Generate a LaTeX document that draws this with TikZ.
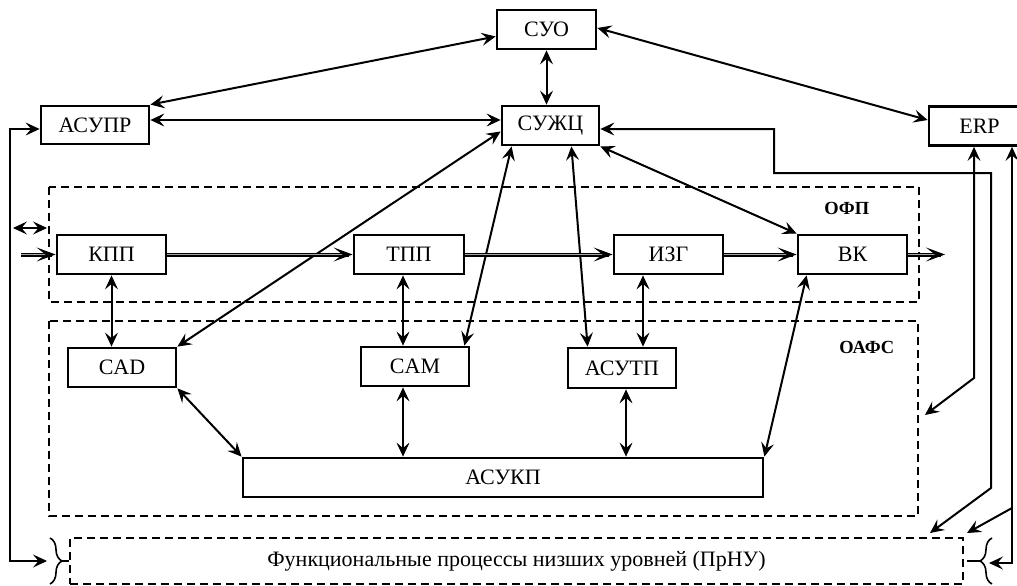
\documentclass[tikz,border=0pt]{standalone}
\usepackage{fontspec}
\setmainfont{Liberation Serif}
\usetikzlibrary{arrows.meta,calc,decorations.pathreplacing}
\newcommand\flowarr[2]{%
  \draw[flowline] (#1) -- ([xshift=-4pt]#2);
  \draw[flowtip] ([xshift=-6pt]#2) -- (#2);}
\begin{document}
\begin{tikzpicture}[x=1pt,y=-1pt,
  box/.style={draw, line width=2.8pt, rectangle, inner sep=0pt, font=\fontsize{22}{24}\selectfont},
  region/.style={draw, line width=1.6pt, dash pattern=on 8pt off 5pt},
  arrtip/.tip={Stealth[length=14pt,width=13pt,inset=5.5pt,line width=1pt]},
  conn/.style={line width=2pt, arrtip-arrtip},
  oneway/.style={line width=2pt, -arrtip},
  flowline/.style={line width=1.1pt, double=gray!70, double distance=1.8pt},
  flowtip/.style={line width=1.6pt, -{Stealth[length=19pt,width=14pt,inset=9pt,line width=1pt]}},
  lbl/.style={font=\bfseries\fontsize{18.5}{20}\selectfont},
  bracestyle/.style={line width=1.6pt, decorate, decoration={brace, amplitude=12pt}}
]
\useasboundingbox (0,0) rectangle (1017,586);

% regions
\draw[region] (49,187) rectangle (919,302);
\draw[region] (49,321) rectangle (918,516);
\node[lbl] (ofp) at (846.7,208.5) {ОФП};
\node[lbl] (oafs) at (866.7,347) {ОАФС};
\node[draw, line width=1.3pt, dash pattern=on 8pt off 5pt, minimum width=893pt, minimum height=46pt, inner sep=0pt, font=\fontsize{22}{24}\selectfont] (prnu) at (516.5,561) {Функциональные процессы низших уровней (ПрНУ)};

% boxes
\node[box, minimum width=99pt, minimum height=39pt] (suo) at (546.5,29.5) {СУО};
\node[box, minimum width=97pt, minimum height=39pt] (suzhc) at (550.5,125.5) {СУЖЦ};
\node[box, minimum width=108pt, minimum height=38pt] (asupr) at (95,125) {АСУПР};
\node[box, minimum width=101pt, minimum height=39pt] (erp) at (979.5,126) {ERP};
\node[box, minimum width=109pt, minimum height=39pt] (kpp) at (111.5,254.5) {КПП};
\node[box, minimum width=110pt, minimum height=39pt] (tpp) at (409,254.5) {ТПП};
\node[box, minimum width=109pt, minimum height=39pt] (izg) at (668.5,254.5) {ИЗГ};
\node[box, minimum width=109pt, minimum height=39pt] (vk) at (852.5,254.5) {ВК};
\node[box, minimum width=108pt, minimum height=39pt] (cad) at (122,367.5) {CAD};
\node[box, minimum width=108pt, minimum height=39pt] (cam) at (415,366.5) {CAM};
\node[box, minimum width=108pt, minimum height=40pt] (asutp) at (622,368) {АСУТП};
\node[box, minimum width=520pt, minimum height=39pt] (asukp) at (503,477.5) {АСУКП};

% top connections
\draw[conn] (asupr.north east) -- ([yshift=-7pt]suo.west);
\draw[conn] ([yshift=1.5pt]suo.east) -- ([yshift=6pt]erp.west);
\draw[conn] (suo.south) -- (suo.south |- suzhc.north);
\draw[conn] ([yshift=5pt]asupr.east) -- ([yshift=5pt]asupr.east -| suzhc.west);

% from СУЖЦ downward
\draw[conn] ([yshift=-6pt]suzhc.west) -- (cad.north east);
\draw[conn] ([xshift=11pt]suzhc.south west) -- ([xshift=-6pt]cam.north east);
\draw[conn] ([xshift=-29pt]suzhc.south east) -- ([xshift=21pt]asutp.north west);
\draw[conn] (suzhc.south east) -- (vk.north west);
\draw[conn] ([xshift=10pt]vk.south west) -- (asukp.north east);

% verticals
\draw[conn] (kpp.south) -- (kpp.south |- cad.north);
\draw[conn] ([xshift=-6pt]tpp.south) -- ([xshift=-6pt]tpp.south |- cam.north);
\draw[conn] ([xshift=-25.5pt]izg.south) -- ([xshift=-25.5pt]izg.south |- asutp.north);
\draw[conn] (cad.south east) -- (asukp.north west);
\draw[conn] ([xshift=-12pt]cam.south) -- ([xshift=-12pt]cam.south |- asukp.north);
\draw[conn] ([xshift=4pt]asutp.south) -- ([xshift=4pt]asutp.south |- asukp.north);

% flow
\coordinate (in) at (21,254.5);
\coordinate (out) at (945,254.5);
\flowarr{in}{kpp.west}
\flowarr{kpp.east}{tpp.west}
\flowarr{tpp.east}{izg.west}
\flowarr{izg.east}{vk.west}
\flowarr{vk.east}{out}

% small two-way arrow at left
\coordinate (s1) at (13,228);
\coordinate (s2) at (47,228);
\draw[conn] (s1) -- (s2);

% braces
\coordinate (lbtop) at (50,538);
\coordinate (lbbot) at (50,584);
\coordinate (lbtip) at (62,561);
\coordinate (lbin) at (47,561);
\draw[bracestyle] (lbtop) -- (lbbot);
\draw[line width=1.6pt] (lbtip) -- (lbtip -| prnu.west);
\coordinate (rbtop) at (992,538);
\coordinate (rbbot) at (992,584);
\coordinate (rbtip) at (980,561);
\coordinate (rbin) at (989,563);
\draw[bracestyle] (rbbot) -- (rbtop);
\draw[line width=1.6pt] (rbtip) -- ([xshift=3pt]rbtip -| prnu.east);

% left loop АСУПР <-> ПрНУ
\coordinate (l1) at (10,129);
\draw[conn] (lbin) -| (l1) -- (l1 -| asupr.west);

% right side
\coordinate (b1) at (774,129);
\coordinate (b2) at (774,173);
\coordinate (b3) at (991,173);
\coordinate (b4) at (991,488);
\coordinate (b5) at (930,533);
\draw[conn] (b1 -| suzhc.east) -- (b1) -- (b2) -- (b3) -- (b4) -- (b5);

\coordinate (a1) at (974,378);
\coordinate (a2) at (925,415);
\draw[conn] (a1 |- erp.south) -- (a1) -- (a2);

\coordinate (c1) at (1012,563);
\coordinate (c2) at (1012,508);
\coordinate (c3) at (967,533);
\draw[conn] (c1 |- erp.south) -- (c1) -- (rbin);
\draw[oneway] (c2) -- (c3);
\end{tikzpicture}
\end{document}
